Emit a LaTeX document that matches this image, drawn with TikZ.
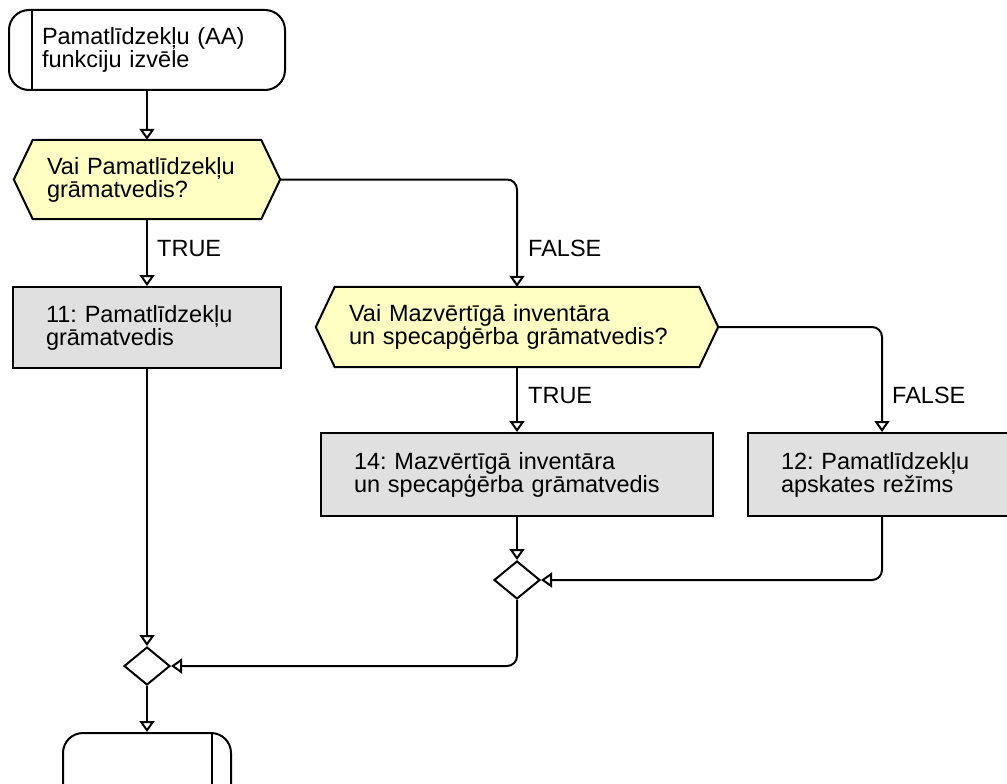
\documentclass[tikz,border=0pt]{standalone}
\usepackage{fontspec}
\setmainfont{Liberation Sans}
\usetikzlibrary{arrows.meta,backgrounds,shapes.geometric}
\definecolor{decfill}{RGB}{255,255,196}
\definecolor{actfill}{RGB}{224,224,224}
\frenchspacing
\newcommand\hexbg[1]{%
  \begin{scope}[on background layer]
    \filldraw[base,fill=decfill] ([xshift=19pt]#1.north west) -- ([xshift=-19pt]#1.north east) -- (#1.east)
      -- ([xshift=-19pt]#1.south east) -- ([xshift=19pt]#1.south west) -- (#1.west) -- cycle;
  \end{scope}}
\begin{document}
\begin{tikzpicture}[x=1pt,y=-1pt,
  every node/.style={font=\fontsize{23.5}{23}\selectfont},
  base/.style={line width=2pt, line join=miter},
  arr/.style={base, -{Triangle[open, length=11pt, width=15pt]}},
  box/.style={base, rectangle, draw, fill=actfill, align=left, inner xsep=33pt, inner ysep=0pt},
  term/.style={base, rectangle, draw, fill=white, rounded corners=20pt, align=left, inner xsep=33pt, inner ysep=0pt},
  dec/.style={rectangle, align=left, inner xsep=33pt, inner ysep=0pt},
  merge/.style={base, diamond, draw, fill=white, inner sep=0pt, minimum width=46pt, minimum height=38pt},
  lbl/.style={anchor=base west, inner sep=0pt}]
\useasboundingbox (0,0) rectangle (1007,784);

% start terminal
\node[term, text width=210pt, minimum height=80pt] (s) at (147,50) {Pamatlīdzekļu (AA)\\funkciju izvēle};
\draw[base] ([xshift=24pt]s.north west) -- ([xshift=24pt]s.south west);

% decision 1
\node[dec, text width=200pt, minimum height=79pt] (d1) at (147,179.5) {Vai Pamatlīdzekļu\\grāmatvedis?};
\hexbg{d1}

% activity 11
\node[box, text width=202pt, minimum height=81pt] (b11) at (147,327.5) {11: Pamatlīdzekļu\\grāmatvedis};

% decision 2
\node[dec, text width=336pt, minimum height=80pt] (d2) at (517,327) {Vai Mazvērtīgā inventāra\\un specapģērba grāmatvedis?};
\hexbg{d2}

% activity 14 and 12
\node[box, text width=326pt, minimum height=83pt] (b14) at (517,474.5) {14: Mazvērtīgā inventāra\\un specapģērba grāmatvedis};
\node[box, text width=202pt, minimum height=83pt] (b12) at (882,474.5) {12: Pamatlīdzekļu\\apskates režīms};

% merges
\node[merge] (m1) at (517,580) {};
\node[merge] (m2) at (147,666) {};

% end terminal
\node[term, text width=102pt, minimum height=80pt] (e) at (147,773) {};
\draw[base] ([xshift=-20pt]e.north east) -- ([xshift=-20pt]e.south east);

% labels
\node[lbl] (t1) at (157,256) {TRUE};
\node[lbl] (f1) at (528,256) {FALSE};
\node[lbl] (t2) at (528,403) {TRUE};
\node[lbl] (f2) at (892,403) {FALSE};

% connectors
\draw[arr] (s.south) -- (d1.north);
\draw[arr] (d1.south) -- (b11.north);
\draw[arr, rounded corners=10pt] (d1.east) -| (d2.north);
\draw[arr] (d2.south) -- (b14.north);
\draw[arr, rounded corners=10pt] (d2.east) -| (b12.north);
\draw[arr] (b14.south) -- (m1.north);
\draw[arr, rounded corners=10pt] (b12.south) |- (m1.east);
\draw[arr] (b11.south) -- (m2.north);
\draw[arr, rounded corners=10pt] (m1.south) |- (m2.east);
\draw[arr] (m2.south) -- (e.north);
\end{tikzpicture}
\end{document}
